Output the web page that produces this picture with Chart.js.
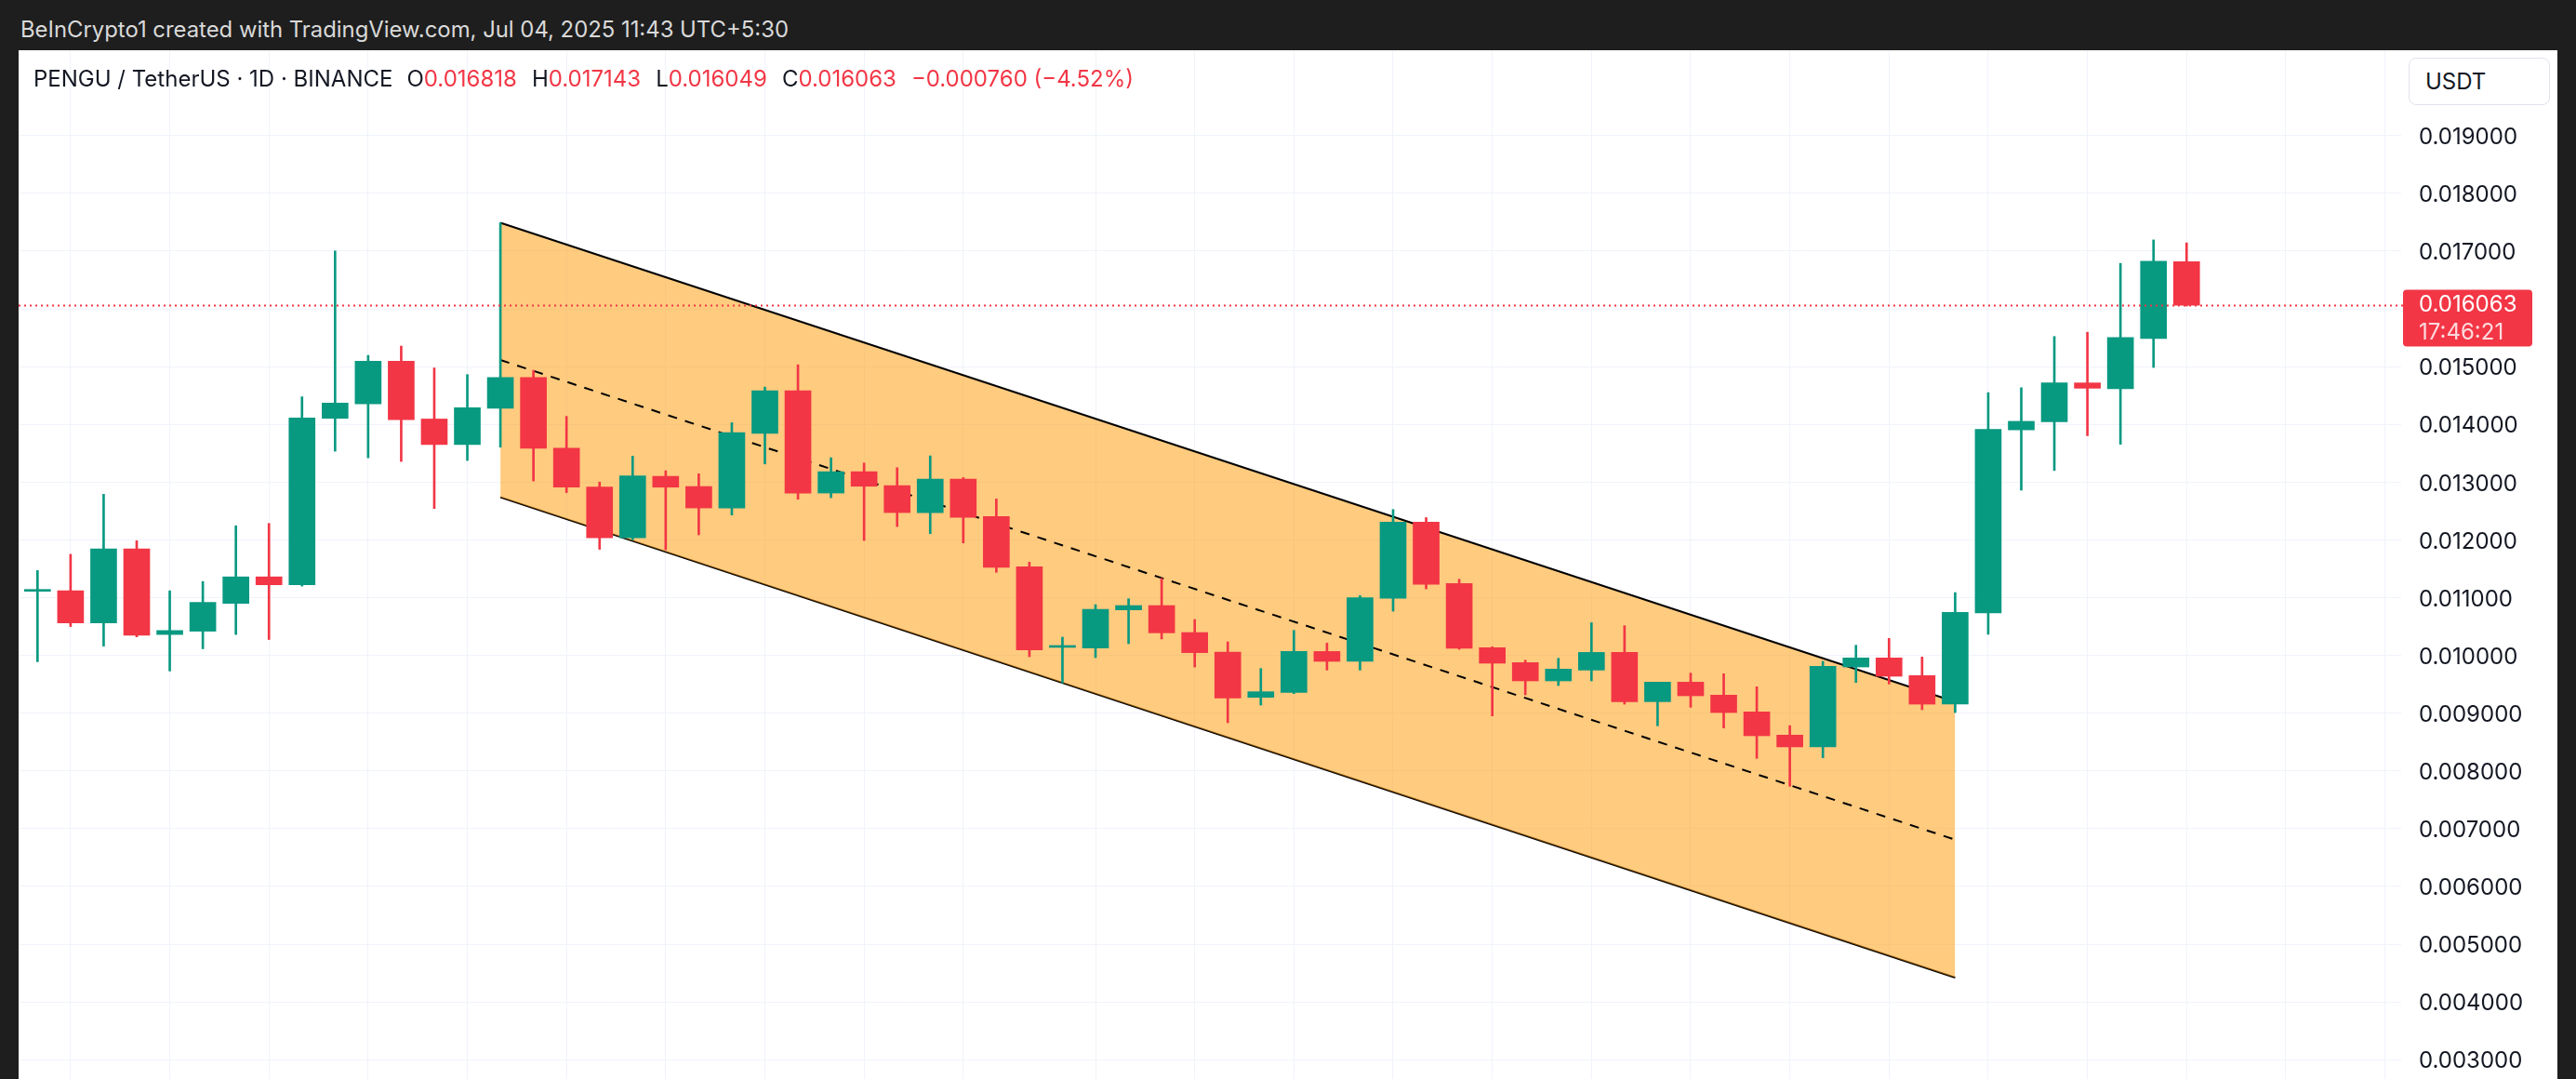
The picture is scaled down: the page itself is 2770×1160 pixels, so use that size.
<!DOCTYPE html>
<html><head><meta charset="utf-8">
<script src="https://cdn.jsdelivr.net/npm/chart.js@4.4.1/dist/chart.umd.min.js"></script>
<style>
html,body{margin:0;padding:0;background:#1e1e1e;width:2770px;height:1160px;overflow:hidden;font-family:Inter,"Noto Sans",sans-serif;}
#hdr{position:absolute;left:22px;top:17px;font-size:23px;line-height:30px;color:#d9d9d9;white-space:nowrap;}
#wrap{position:absolute;left:20px;top:54px;width:2730px;height:1106px;background:#fff;}
#legend{position:absolute;left:16px;top:16px;font-size:24px;line-height:30px;color:#131722;white-space:nowrap;}
#legend .r{color:#f23645}
#legend .g{margin-left:16px}
#legend .f{margin-left:15px}
#usdt{position:absolute;left:2570px;top:8px;width:152px;height:51px;border:1px solid #e0e3eb;border-radius:8px;box-sizing:border-box;font-size:24px;line-height:49px;padding-left:17px;color:#131722;background:#fff;}
canvas{position:absolute;left:0;top:0;}
</style></head>
<body>
<div id="hdr">BeInCrypto1 created with TradingView.com, Jul 04, 2025 11:43 UTC+5:30</div>
<div id="wrap">
<canvas id="c" width="2730" height="1106"></canvas>
<div id="legend">PENGU / TetherUS · 1D · BINANCE<span class="f">O</span><span class="r">0.016818</span><span class="g">H</span><span class="r">0.017143</span><span class="g">L</span><span class="r">0.016049</span><span class="g">C</span><span class="r">0.016063</span><span class="r g">−0.000760 (−4.52%)</span></div>
<div id="usdt">USDT</div>
</div>
<script>
// ---- data ----
const opens  = [0.011110,0.011119,0.010563,0.011843,0.010362,0.010419,0.010901,0.011360,0.011223,0.014104,
                0.014357,0.015092,0.014093,0.013651,0.014277,0.014811,0.013588,0.012916,0.012038,0.013101,
                0.012924,0.012553,0.013846,0.014581,0.012811,0.013181,0.012940,0.012473,0.013052,0.012403,
                0.011534,0.010139,0.010128,0.010788,0.010863,0.010396,0.010058,0.009274,0.009360,0.010068,
                0.009897,0.010991,0.012306,0.011243,0.010133,0.009875,0.009559,0.009746,0.010052,0.009199,
                0.009537,0.009312,0.009022,0.008620,0.008416,0.009800,0.009956,0.009650,0.009156,0.010737,
                0.013905,0.014044,0.014718,0.014617,0.015485,0.016818];
const highs  = [0.011470,0.011751,0.012790,0.011986,0.011119,0.011280,0.012244,0.012285,0.014478,0.017003,
                0.015195,0.015356,0.014977,0.014862,0.017491,0.014937,0.014139,0.013002,0.013450,0.013197,
                0.013144,0.014029,0.014646,0.015032,0.013423,0.013331,0.013251,0.013455,0.013079,0.012709,
                0.011614,0.010316,0.010879,0.010981,0.011335,0.010622,0.010235,0.009773,0.010433,0.010213,
                0.011034,0.012526,0.012386,0.011319,0.010150,0.009918,0.009950,0.010567,0.010514,0.009537,
                0.009693,0.009682,0.009457,0.008784,0.009897,0.010176,0.010294,0.009972,0.011088,0.014552,
                0.014635,0.015522,0.015596,0.016788,0.017194,0.017143];
const lows   = [0.009891,0.010500,0.010161,0.010321,0.009730,0.010115,0.010362,0.010275,0.011200,0.013536,
                0.013421,0.013358,0.012543,0.013375,0.013605,0.013020,0.012819,0.011837,0.012000,0.011829,
                0.012087,0.012430,0.013315,0.012704,0.012730,0.011990,0.012231,0.012108,0.011947,0.011438,
                0.009978,0.009522,0.009962,0.010203,0.010284,0.009799,0.008835,0.009140,0.009339,0.009746,
                0.009746,0.010766,0.011152,0.010106,0.008952,0.009317,0.009478,0.009559,0.009156,0.008781,
                0.009102,0.008743,0.008217,0.007734,0.008228,0.009532,0.009505,0.009060,0.009011,0.010367,
                0.012861,0.013203,0.013804,0.013656,0.014986,0.016049];
const closes = [0.011125,0.010563,0.011843,0.010350,0.010431,0.010918,0.011360,0.011223,0.014110,0.014369,
                0.015092,0.014082,0.013651,0.014288,0.014811,0.013588,0.012916,0.012038,0.013110,0.012913,
                0.012553,0.013857,0.014581,0.012811,0.013181,0.012929,0.012473,0.013052,0.012392,0.011523,
                0.010096,0.010150,0.010799,0.010863,0.010391,0.010048,0.009264,0.009371,0.010068,0.009897,
                0.010997,0.012306,0.011233,0.010122,0.009865,0.009559,0.009763,0.010052,0.009199,0.009537,
                0.009301,0.009011,0.008609,0.008416,0.009811,0.009956,0.009639,0.009156,0.010744,0.013915,
                0.014053,0.014718,0.014626,0.015503,0.016824,0.016063];
const lastPrice = 0.016063;
const countdown = "17:46:21";
const yTicks = [0.003,0.004,0.005,0.006,0.007,0.008,0.009,0.010,0.011,0.012,0.013,0.014,0.015,0.016,0.017,0.018,0.019];
// channel anchors: [bar index, price]
const channelUpper = [[14,0.017491],[58,0.009197]];
const channelLower = [[14,0.012738],[58,0.004421]];
const channelMid   = [[14,0.015115],[58,0.006809]];
// categories: daily dates, first bar = 2025-04-30 (extends into empty future space)
const dates = [];
for (let i = 0; i < 72; i++) { dates.push(new Date(Date.UTC(2025, 3, 30 + i)).toISOString().slice(0,10)); }
const gridDays = [1,4,7,10,13,16,19,22,25,28];

// fit header text to the reference width
function fitHeader() {
  const h = document.getElementById('hdr');
  h.style.fontSize = '23px';
  const w = h.getBoundingClientRect().width;
  if (w > 0) h.style.fontSize = (23 * 826 / w).toFixed(2) + 'px';
}
fitHeader();
if (document.fonts && document.fonts.ready) document.fonts.ready.then(fitHeader);

// ---- build ----
const UP = '#089981', DOWN = '#f23645';
const idx = opens.map((_, i) => i);
const colors = idx.map(i => closes[i] >= opens[i] ? UP : DOWN);
const bodies = idx.map(i => ({x: i, y: [Math.min(opens[i], closes[i]), Math.max(opens[i], closes[i])]}));
const wicks  = idx.map(i => ({x: i, y: [lows[i], highs[i]]}));
const gridIdx = dates.map((d, i) => gridDays.includes(+d.slice(8,10)) ? i : null).filter(v => v !== null);
const toPts = a => a.map(p => ({x: p[0], y: p[1]}));

const priceLine = {
  id: 'priceLine',
  afterDatasetsDraw(chart) {
    const {ctx, chartArea, scales: {y}} = chart;
    const py = Math.round(y.getPixelForValue(lastPrice)) + 0.5;
    ctx.save();
    ctx.strokeStyle = DOWN; ctx.lineWidth = 2; ctx.setLineDash([2, 4]);
    ctx.beginPath(); ctx.moveTo(chartArea.left, py); ctx.lineTo(chartArea.right + 2, py); ctx.stroke();
    ctx.setLineDash([]);
    const bx = chartArea.right + 2, bw = 139, top = py - 17, bh = 61;
    ctx.fillStyle = DOWN;
    ctx.beginPath(); ctx.roundRect(bx, top, bw, bh, 4); ctx.fill();
    ctx.font = '24px Inter, "Noto Sans", sans-serif';
    ctx.textBaseline = 'middle'; ctx.textAlign = 'left';
    ctx.fillStyle = '#ffffff';
    ctx.fillText(lastPrice.toFixed(6), chartArea.right + 19, py - 1);
    ctx.fillStyle = 'rgba(255,255,255,0.82)';
    ctx.fillText(countdown, chartArea.right + 19, py + 29);
    ctx.restore();
  }
};

const noPad = s => { s.paddingTop = 0; s.paddingBottom = 0; s.paddingLeft = 0; s.paddingRight = 0; };

new Chart(document.getElementById('c'), {
  type: 'bar',
  data: {
    datasets: [
      {label: 'body', data: bodies, backgroundColor: colors, barThickness: 28, minBarLength: 2, grouped: false, borderWidth: 0, order: 0},
      {label: 'wick', data: wicks, backgroundColor: colors, barThickness: 2, grouped: false, borderWidth: 0, order: 1},
      {type: 'line', label: 'mid', data: toPts(channelMid), borderColor: '#000', borderWidth: 2, borderDash: [10, 9], pointRadius: 0, fill: false, order: 2},
      {type: 'line', label: 'upper', data: toPts(channelUpper), borderColor: '#000', borderWidth: 2, pointRadius: 0, fill: '+1', backgroundColor: 'rgba(255,152,0,0.5)', order: 3},
      {type: 'line', label: 'lower', data: toPts(channelLower), borderColor: '#000', borderWidth: 2, pointRadius: 0, fill: false, order: 4}
    ]
  },
  options: {
    responsive: false, animation: false, devicePixelRatio: 1,
    layout: {padding: 0},
    plugins: {legend: {display: false}, tooltip: {enabled: false}},
    scales: {
      x: {
        type: 'linear', min: -0.572, max: 71.49, offset: false,
        grid: {color: '#f0f3fa', lineWidth: 1, drawTicks: false, offset: false},
        border: {display: false},
        ticks: {display: false},
        afterBuildTicks: s => { s.ticks = gridIdx.map(v => ({value: v})); },
        afterFit: s => { s.height = 0; noPad(s); }
      },
      y: {
        type: 'linear', position: 'right', min: 0.002666, max: 0.020478,
        grid: {color: '#f0f3fa', lineWidth: 1, drawTicks: false},
        border: {display: false},
        ticks: {padding: 19, labelOffset: 2, color: '#131722', font: {family: 'Inter, "Noto Sans", sans-serif', size: 24}, callback: v => v.toFixed(6)},
        afterBuildTicks: s => { s.ticks = yTicks.map(v => ({value: v})); },
        afterFit: s => { s.width = 168; noPad(s); }
      }
    }
  },
  plugins: [priceLine]
});
</script>
</body></html>
